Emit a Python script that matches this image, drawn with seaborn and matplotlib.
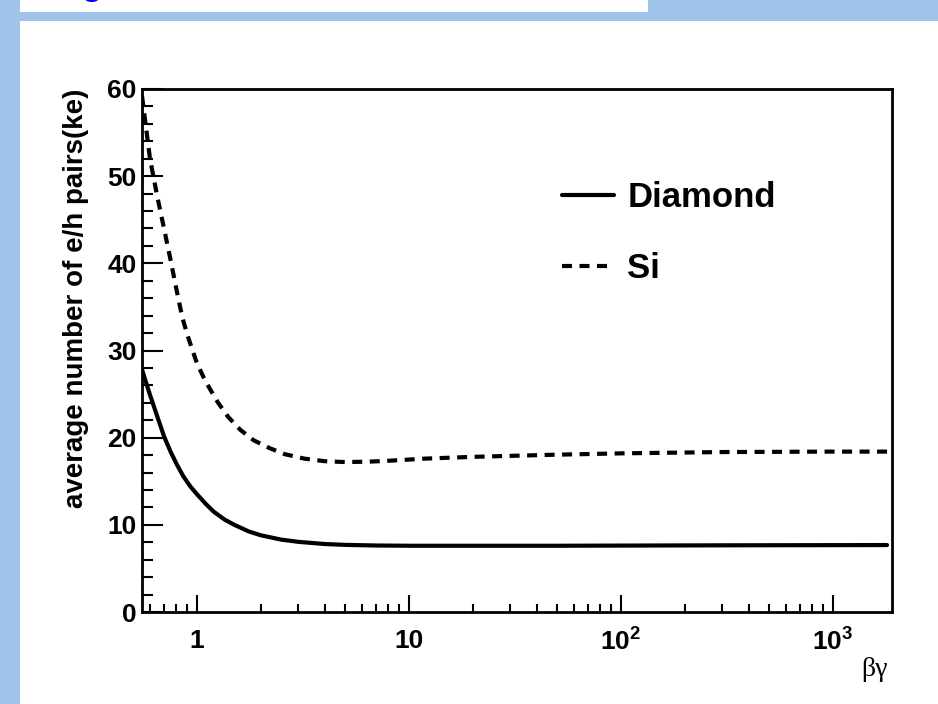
import numpy as np
import pandas as pd
import matplotlib
matplotlib.use("Agg")
import matplotlib.pyplot as plt
import matplotlib.patches as mpatches
from matplotlib.ticker import FixedLocator, NullFormatter, MultipleLocator
import seaborn as sns

# =========================
# Data
# =========================
bg_diamond = [0.55, 0.6, 0.65, 0.7, 0.75, 0.8, 0.86, 0.93, 1.0, 1.1, 1.2, 1.35,
              1.5, 1.75, 2.0, 2.5, 3.0, 4.0, 5.0, 7.0, 10, 20, 50, 100, 300, 1000, 1800]
ke_diamond = [27.8, 24.9, 22.4, 20.1, 18.4, 17.0, 15.6, 14.4, 13.5, 12.4, 11.5, 10.6,
              10.0, 9.25, 8.8, 8.3, 8.05, 7.8, 7.7, 7.63, 7.6, 7.6, 7.6, 7.62, 7.65, 7.67, 7.68]

bg_si = [0.55, 0.6, 0.65, 0.7, 0.75, 0.8, 0.85, 0.9, 0.95, 1.0, 1.1, 1.25, 1.4,
         1.6, 1.85, 2.2, 2.6, 3.2, 4.0, 5.0, 6.5, 8.0, 12, 20, 50, 100, 300, 1000, 1800]
ke_si = [59.2, 52.0, 47.6, 43.9, 40.4, 37.0, 33.9, 31.8, 30.1, 28.5, 26.4, 24.1, 22.4,
         20.9, 19.7, 18.8, 18.1, 17.6, 17.3, 17.2, 17.25, 17.35, 17.6, 17.8, 18.05, 18.2,
         18.35, 18.4, 18.4]

materials = ["Diamond", "Si"]
x_major = [1, 10, 100, 1000]
x_major_labels = ["1", "10", r"$10^{2}$", r"$10^{3}$"]

df = pd.concat([
    pd.DataFrame({"bg": bg_diamond, "ke": ke_diamond, "material": "Diamond"}),
    pd.DataFrame({"bg": bg_si, "ke": ke_si, "material": "Si"}),
], ignore_index=True)

# =========================
# Style
# =========================
sns.set_theme(style="white")
plt.rcParams["font.family"] = ["Liberation Sans", "DejaVu Sans"]
plt.rcParams["font.weight"] = "bold"
plt.rcParams["text.color"] = "black"
plt.rcParams["axes.labelcolor"] = "black"
plt.rcParams["mathtext.fontset"] = "custom"
plt.rcParams["mathtext.rm"] = "Liberation Sans:bold"
plt.rcParams["mathtext.bf"] = "Liberation Sans:bold"
plt.rcParams["mathtext.it"] = "Liberation Sans:bold"

BLUE_BG = "#9fc3e9"

fig = plt.figure(figsize=(9.38, 7.04), dpi=100)
fig.patch.set_facecolor("white")

# slide decoration: blue frame strips and the cut-off title
fig.patches.append(mpatches.Rectangle((0, 0), 20 / 938, 1, transform=fig.transFigure,
                                      facecolor=BLUE_BG, edgecolor="none", zorder=0))
fig.patches.append(mpatches.Rectangle((0, 1 - 21 / 704), 1, 9 / 704, transform=fig.transFigure,
                                      facecolor=BLUE_BG, edgecolor="none", zorder=0))
fig.patches.append(mpatches.Rectangle((648 / 938, 1 - 12 / 704), 1, 12 / 704, transform=fig.transFigure,
                                      facecolor=BLUE_BG, edgecolor="none", zorder=0))
fig.text(82 / 938, 1 + 5 / 704, "g", color="#0000ff", fontsize=24, fontweight="bold",
         va="baseline", ha="left")

ax = fig.add_axes([142 / 938, 1 - 612 / 704, 750 / 938, 523 / 704])

sns.lineplot(data=df, x="bg", y="ke", style="material", style_order=materials,
             dashes={"Diamond": "", "Si": (2.4, 1.8)}, color="black",
             linewidth=3, sort=False, ax=ax)

ax.set_xscale("log")
ax.set_xlim(0.55, 1900)
ax.set_ylim(0, 60)

ax.xaxis.set_major_locator(FixedLocator(x_major))
ax.set_xticklabels(x_major_labels)
ax.xaxis.set_minor_locator(FixedLocator(
    [m * 10 ** e for e in range(-1, 4) for m in range(2, 10) if 0.55 <= m * 10 ** e <= 1900]))
ax.xaxis.set_minor_formatter(NullFormatter())
ax.yaxis.set_major_locator(MultipleLocator(10))
ax.yaxis.set_minor_locator(MultipleLocator(2))

ax.tick_params(axis="both", which="both", direction="in", width=1.5, colors="black",
               labelsize=19, bottom=True, left=True, top=False, right=False)
ax.tick_params(axis="y", which="major", length=15, pad=4)
ax.tick_params(axis="y", which="minor", length=8)
ax.tick_params(axis="x", which="major", length=12, pad=12)
ax.tick_params(axis="x", which="minor", length=6)
for lab in ax.get_xticklabels() + ax.get_yticklabels():
    lab.set_fontweight("bold")

for sp in ax.spines.values():
    sp.set_visible(True)
    sp.set_color("black")
    sp.set_linewidth(2)

ax.set_xlabel("")
ax.set_ylabel("average number of e/h pairs(ke)", fontsize=20, fontweight="bold")
ax.yaxis.set_label_coords(-0.070, 1.0, transform=ax.transAxes)
ax.yaxis.label.set_ha("right")

fig.text(888 / 938, 1 - 676 / 704, "βγ", fontsize=20, family=["Liberation Serif", "DejaVu Serif"],
         fontweight="normal", ha="right", va="baseline")

handles, labels = ax.get_legend_handles_labels()
leg = ax.legend(handles, labels, loc="upper left", bbox_to_anchor=(562 / 938, 1 - 181 / 704),
                bbox_transform=fig.transFigure, frameon=False, fontsize=25,
                handlelength=1.5, handletextpad=0.38, labelspacing=1.1,
                borderpad=0, borderaxespad=0)
for t in leg.get_texts():
    t.set_fontweight("bold")

fig.savefig("out.png", dpi=100, facecolor="white")
